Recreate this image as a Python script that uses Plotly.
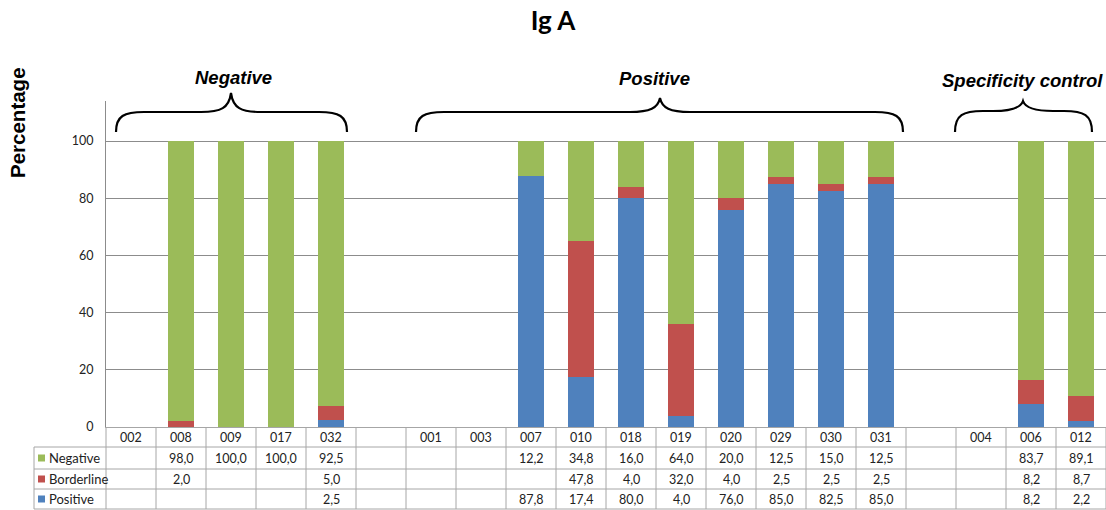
import plotly.graph_objects as go

# Sample identifiers (empty strings are spacer columns between groups)
categories = ["002", "008", "009", "017", "032", "",
              "001", "003", "007", "010", "018", "019", "020", "029", "030", "031", "",
              "004", "006", "012"]

# Percentages per result class (None = no value)
negative = [None, 98.0, 100.0, 100.0, 92.5, None,
            None, None, 12.2, 34.8, 16.0, 64.0, 20.0, 12.5, 15.0, 12.5, None,
            None, 83.7, 89.1]
borderline = [None, 2.0, None, None, 5.0, None,
              None, None, None, 47.8, 4.0, 32.0, 4.0, 2.5, 2.5, 2.5, None,
              None, 8.2, 8.7]
positive = [None, None, None, None, 2.5, None,
            None, None, 87.8, 17.4, 80.0, 4.0, 76.0, 85.0, 82.5, 85.0, None,
            None, 8.2, 2.2]

y_ticks = [0, 20, 40, 60, 80, 100]

groups = ["Negative", "Positive", "Specificity control"]

GREEN = "#9BBB59"
RED = "#C0504D"
BLUE = "#4F81BD"
GRID = "#8C8C8C"
TABLE_LINE = "#A6A6A6"
BODY_FONT = "Lato"
TEXT = "#222222"

W, H = 1106, 510
L, R, T, B = 106, 0, 101, 83
PLOT_W = W - L - R
PLOT_H = H - T - B
X0_PX = L
Y0_PX = H - B


def to_paper(px, py):
    return (px - X0_PX) / PLOT_W, (Y0_PX - py) / PLOT_H


def py_to_paper(py):
    return (Y0_PX - py) / PLOT_H


def px_to_paper(px):
    return (px - X0_PX) / PLOT_W


xs = list(range(len(categories)))

fig = go.Figure()
series = [("Positive", positive, BLUE), ("Borderline", borderline, RED), ("Negative", negative, GREEN)]
for name, vals, color in series:
    fig.add_trace(go.Bar(x=xs, y=vals, name=name, marker=dict(color=color, line=dict(width=0)),
                         showlegend=False, hoverinfo="y+name"))

shapes = []
annotations = []


def label(x, xref, y, text, size=12.5, family=BODY_FONT, xanchor="center", **kw):
    annotations.append(dict(x=x, xref=xref, y=y, yref="paper", text=text, showarrow=False,
                            xanchor=xanchor, yanchor="middle",
                            font=dict(family=family, size=size, color=kw.pop("color", TEXT)),
                            **kw))


# --- data table under the plot ---
row_lines = [447, 469, 489, 509]
row_centers = [458, 479, 499]
header_center = 437

for py in row_lines:
    shapes.append(dict(type="line", xref="paper", yref="paper",
                       x0=px_to_paper(34), x1=1.0, y0=py_to_paper(py), y1=py_to_paper(py),
                       line=dict(color=TABLE_LINE, width=1)))
shapes.append(dict(type="line", xref="paper", yref="paper",
                   x0=px_to_paper(34), x1=px_to_paper(34),
                   y0=py_to_paper(447), y1=py_to_paper(509),
                   line=dict(color=TABLE_LINE, width=1)))
for k in range(len(categories) + 1):
    xp = k / len(categories)
    shapes.append(dict(type="line", xref="paper", yref="paper", x0=xp, x1=xp,
                       y0=0, y1=py_to_paper(509),
                       line=dict(color=TABLE_LINE, width=1)))

# header: sample ids
for i, c in enumerate(categories):
    if c:
        label(i, "x", py_to_paper(header_center), c)


def fmt(v):
    return f"{v:.1f}".replace(".", ",")


for (name, vals, color), yc in zip(reversed(series), row_centers):
    # legend key + label
    shapes.append(dict(type="rect", xref="paper", yref="paper",
                       x0=px_to_paper(38), x1=px_to_paper(45),
                       y0=py_to_paper(yc + 3.5), y1=py_to_paper(yc - 3.5),
                       fillcolor=color, line=dict(width=0)))
    label(px_to_paper(47), "paper", py_to_paper(yc), name, size=13, xanchor="left")
    for i, v in enumerate(vals):
        if v is not None:
            label(i, "x", py_to_paper(yc), fmt(v))


# --- curly braces over the sample groups ---
def brace_path(x0, x1, xm, y_end, y_h, y_tip):
    def p(x, y):
        a, b = to_paper(x, y)
        return f"{a:.5f},{b:.5f}"

    r = 28
    return (f"M {p(x0, y_end)} "
            f"C {p(x0, y_h + 4)} {p(x0 + 8, y_h)} {p(x0 + r, y_h)} "
            f"L {p(xm - 30, y_h)} "
            f"C {p(xm - 10, y_h)} {p(xm - 2, y_h - 4)} {p(xm, y_tip)} "
            f"C {p(xm + 2, y_h - 4)} {p(xm + 10, y_h)} {p(xm + 30, y_h)} "
            f"L {p(x1 - r, y_h)} "
            f"C {p(x1 - 8, y_h)} {p(x1, y_h + 4)} {p(x1, y_end)}")


braces = [
    (116, 347, 231, 132, 112, 93),
    (416, 903, 660, 132, 112, 98),
    (955, 1092, 1023, 132, 111, 101),
]
for b in braces:
    shapes.append(dict(type="path", xref="paper", yref="paper", path=brace_path(*b),
                       line=dict(color="black", width=2.2)))

label_pos = [(233, 77), (654, 79), (1022, 81)]
for gname, (lx, ly) in zip(groups, label_pos):
    label(px_to_paper(lx), "paper", py_to_paper(ly), f"<b><i>{gname}</i></b>",
          size=18.5, family="Liberation Sans", color="black")

# y-axis title
label(px_to_paper(17), "paper", py_to_paper(123), "<b>Percentage</b>",
      size=20.5, family="Liberation Sans", color="black", textangle=-90)

fig.update_layout(
    width=W, height=H,
    margin=dict(l=L, r=R, t=T, b=B, pad=0),
    paper_bgcolor="white", plot_bgcolor="white",
    barmode="stack", bargap=0.48,
    title=dict(text="<b>Ig A</b>", x=0.5, xanchor="center", y=1 - 21 / H, yanchor="middle",
               font=dict(family=BODY_FONT, size=26, color="black")),
    xaxis=dict(range=[-0.5, len(categories) - 0.5], showticklabels=False, ticks="",
               showgrid=False, zeroline=False, showline=True, linecolor=TABLE_LINE, linewidth=1),
    yaxis=dict(range=[0, PLOT_H / 2.86], tickvals=y_ticks, ticks="", showgrid=True,
               gridcolor=GRID, gridwidth=1, zeroline=False, showline=True,
               linecolor=GRID, linewidth=1, ticklabelstandoff=9,
               tickfont=dict(family=BODY_FONT, size=12.5, color=TEXT)),
    shapes=shapes,
    annotations=annotations,
)

fig.write_html("out.html")
